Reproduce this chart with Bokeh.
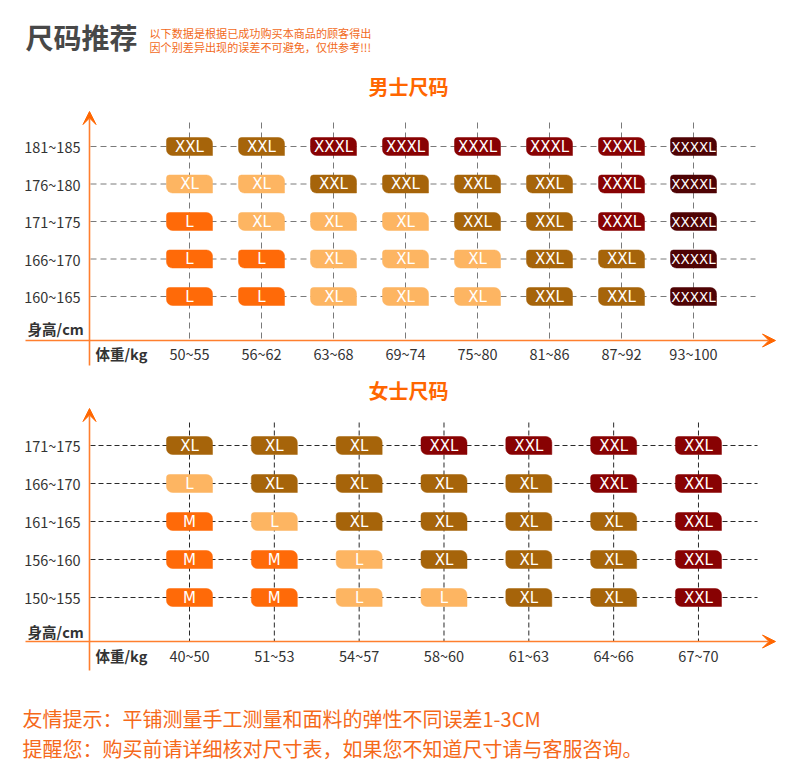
from bokeh.plotting import figure
from bokeh.models import Range1d, Arrow, VeeHead, ColumnDataSource
from bokeh.core.properties import value
from bokeh.embed import file_html
from bokeh.resources import INLINE

# ---------------- data ----------------
title_main = "尺码推荐"
note_line1 = "以下数据是根据已成功购买本商品的顾客得出"
note_line2 = "因个别差异出现的误差不可避免，仅供参考!!!"

men_title = "男士尺码"
men_heights = ["181~185", "176~180", "171~175", "166~170", "160~165"]   # top -> bottom
men_weights = ["50~55", "56~62", "63~68", "69~74", "75~80", "81~86", "87~92", "93~100"]
men_size_order = ["L", "XL", "XXL", "XXXL", "XXXXL"]
men_row_181_185 = ["XXL", "XXL", "XXXL", "XXXL", "XXXL", "XXXL", "XXXL", "XXXXL"]
men_row_176_180 = ["XL", "XL", "XXL", "XXL", "XXL", "XXL", "XXXL", "XXXXL"]
men_row_171_175 = ["L", "XL", "XL", "XL", "XXL", "XXL", "XXXL", "XXXXL"]
men_row_166_170 = ["L", "L", "XL", "XL", "XL", "XXL", "XXL", "XXXXL"]
men_row_160_165 = ["L", "L", "XL", "XL", "XL", "XXL", "XXL", "XXXXL"]

women_title = "女士尺码"
women_heights = ["171~175", "166~170", "161~165", "156~160", "150~155"]  # top -> bottom
women_weights = ["40~50", "51~53", "54~57", "58~60", "61~63", "64~66", "67~70"]
women_size_order = ["M", "L", "XL", "XXL"]
women_row_171_175 = ["XL", "XL", "XL", "XXL", "XXL", "XXL", "XXL"]
women_row_166_170 = ["L", "XL", "XL", "XL", "XL", "XXL", "XXL"]
women_row_161_165 = ["M", "L", "XL", "XL", "XL", "XL", "XXL"]
women_row_156_160 = ["M", "M", "L", "XL", "XL", "XL", "XXL"]
women_row_150_155 = ["M", "M", "L", "L", "XL", "XL", "XXL"]

y_axis_name = "身高/cm"
x_axis_name = "体重/kg"
tip_line1 = "友情提示：平铺测量手工测量和面料的弹性不同误差1-3CM"
tip_line2 = "提醒您：购买前请详细核对尺寸表，如果您不知道尺寸请与客服咨询。"

# ---------------- styles ----------------
W, H = 790, 771
ORANGE = "#FF6600"
AXIS_ORANGE = "#FF7F2E"
rank_colors = ["#FF6A08", "#FDB562", "#A6640A", "#880203", "#4F0304"]
label_font_size = {"M": "15px", "L": "15px", "XL": "15px", "XXL": "15px", "XXXL": "15px", "XXXXL": "13.5px"}
CJK = "Noto Sans CJK SC"

p = figure(width=W, height=H, output_backend="svg", toolbar_location=None,
           x_axis_type=None, y_axis_type=None, min_border=0,
           x_range=Range1d(0, W), y_range=Range1d(H, 0))
p.grid.visible = False
p.outline_line_color = None
p.background_fill_color = "white"
p.border_fill_color = "white"


def add_chart(name, title, heights, weights, rows, size_order,
              col0, col_step, row0, row_step, cfg):
    n_rows = len(heights)
    xr = name + "_x"
    yr = name + "_y"
    p.extra_x_ranges[xr] = Range1d(-col0 / col_step, (W - col0) / col_step)
    p.extra_y_ranges[yr] = Range1d((row0 - H) / row_step, row0 / row_step)

    # title
    p.text(x=[cfg["title_x"]], y=[cfg["title_y"]], text=[title],
           text_font=value(CJK), text_font_size=value("20px"), text_font_style="bold",
           text_color=ORANGE, text_align="center", text_baseline="middle")

    row_idx = [n_rows - 1 - r for r in range(n_rows)]
    col_idx = list(range(len(weights)))

    # dashed guide lines
    p.segment(x0=[cfg["h_x0"]] * n_rows, x1=[cfg["h_x1"]] * n_rows, y0=row_idx, y1=row_idx,
              y_range_name=yr, line_color=cfg["dash_color"], line_dash=cfg["dash"], line_width=1)
    p.segment(x0=col_idx, x1=col_idx, y0=[cfg["v_y0"]] * len(col_idx), y1=[cfg["v_y1"]] * len(col_idx),
              x_range_name=xr, line_color=cfg["dash_color"], line_dash=cfg["dash"], line_width=1)

    # axes with arrows
    p.add_layout(Arrow(x_start=cfg["ax_x"], y_start=cfg["yax_bottom"], x_end=cfg["ax_x"], y_end=cfg["yax_top"],
                       line_color=AXIS_ORANGE, line_width=1.6,
                       end=VeeHead(size=13, fill_color=ORANGE, line_color=ORANGE)))
    p.add_layout(Arrow(x_start=cfg["xax_left"], y_start=cfg["ax_y"], x_end=cfg["xax_right"], y_end=cfg["ax_y"],
                       line_color=AXIS_ORANGE, line_width=1.6,
                       end=VeeHead(size=13, fill_color=ORANGE, line_color=ORANGE)))

    # tick labels
    p.text(x=[cfg["ylab_x"]] * n_rows, y=row_idx, text=heights, y_range_name=yr,
           text_font=value(CJK), text_font_size=value("14.5px"), text_color="#333333",
           text_align="right", text_baseline="middle")
    p.text(x=col_idx, y=[cfg["xlab_y"]] * len(col_idx), text=weights, x_range_name=xr,
           text_font=value(CJK), text_font_size=value("14.5px"), text_color="#333333",
           text_align="center", text_baseline="middle")
    p.text(x=[cfg["yname_x"]], y=[cfg["yname_y"]], text=[y_axis_name],
           text_font=value(CJK), text_font_size=value("14.5px"), text_font_style="bold",
           text_color="#333333", text_align="right", text_baseline="middle")
    p.text(x=[cfg["xname_x"]], y=[cfg["xlab_y"]], text=[x_axis_name],
           text_font=value(CJK), text_font_size=value("14.5px"), text_font_style="bold",
           text_color="#333333", text_align="left", text_baseline="middle")

    # badges
    xs, ys, labels, colors, fsizes = [], [], [], [], []
    for r, row in enumerate(rows):
        for c, s in enumerate(row):
            xs.append(c)
            ys.append(n_rows - 1 - r)
            labels.append(s)
            colors.append(rank_colors[size_order.index(s)])
            fsizes.append(label_font_size[s])
    src = ColumnDataSource(dict(x=xs, y=ys, label=labels, color=colors, fs=fsizes))
    p.rect(x="x", y="y", width=46, height=18, width_units="screen", height_units="screen",
           source=src, x_range_name=xr, y_range_name=yr,
           fill_color="color", line_color="color", line_width=0.5,
           border_radius=(3, 6, 0, 6))
    p.text(x="x", y="y", text="label", source=src, x_range_name=xr, y_range_name=yr,
           text_font=value("DejaVu Sans"), text_font_size="fs", text_color="white",
           text_align="center", text_baseline="middle")


men_rows = [men_row_181_185, men_row_176_180, men_row_171_175, men_row_166_170, men_row_160_165]
women_rows = [women_row_171_175, women_row_166_170, women_row_161_165, women_row_156_160, women_row_150_155]

add_chart("men", men_title, men_heights, men_weights, men_rows, men_size_order,
          col0=189, col_step=72, row0=296, row_step=37.5,
          cfg=dict(title_x=408, title_y=86, h_x0=90, h_x1=755, v_y0=122, v_y1=340,
                   dash_color="#7a7a7a", dash="6 4",
                   ax_x=89, yax_bottom=365, yax_top=111, ax_y=340, xax_left=25, xax_right=775,
                   ylab_x=80, xlab_y=353, yname_x=83, yname_y=328, xname_x=95))

add_chart("women", women_title, women_heights, women_weights, women_rows, women_size_order,
          col0=189, col_step=84.83, row0=597, row_step=38,
          cfg=dict(title_x=408, title_y=390, h_x0=90, h_x1=757, v_y0=422, v_y1=641,
                   dash_color="#2a2a2a", dash="5 3",
                   ax_x=89, yax_bottom=670, yax_top=408, ax_y=641, xax_left=25, xax_right=775,
                   ylab_x=80, xlab_y=655, yname_x=83, yname_y=631, xname_x=95))

# header
p.text(x=[25], y=[36], text=[title_main], text_font=value(CJK), text_font_size=value("28px"),
       text_font_style="bold", text_color="#484848", text_align="left", text_baseline="middle")
p.text(x=[149, 149], y=[32, 46], text=[note_line1, note_line2], text_font=value(CJK),
       text_font_size=value("11.1px"), text_color="#F26A1B", text_align="left", text_baseline="middle")

# footer
p.text(x=[22, 22], y=[718, 748], text=[tip_line1, tip_line2], text_font=value(CJK),
       text_font_size=value("20px"), text_color="#F5691A", text_align="left", text_baseline="middle")

open("out.html", "w").write(file_html(p, INLINE))
